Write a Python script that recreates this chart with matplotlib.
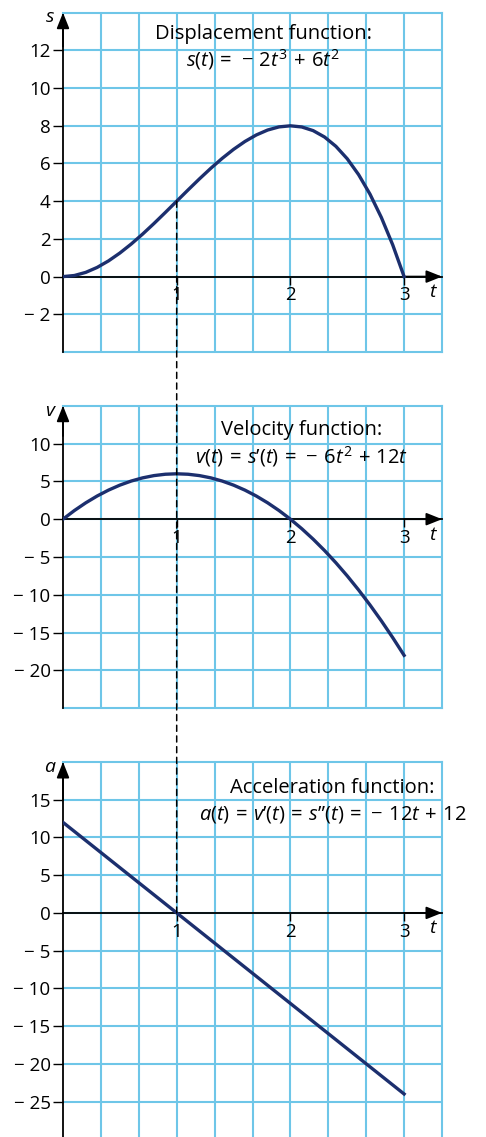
import matplotlib
matplotlib.use("Agg")
import matplotlib.pyplot as plt
from matplotlib.patches import ConnectionPatch

plt.rcParams['font.family'] = ['Open Sans', 'DejaVu Sans']
plt.rcParams['mathtext.fontset'] = 'custom'
plt.rcParams['mathtext.rm'] = 'Open Sans'
plt.rcParams['mathtext.it'] = 'Open Sans:italic'

# values (t step 0.1)
t_curve = [0.0, 0.1, 0.2, 0.3, 0.4, 0.5, 0.6, 0.7, 0.8, 0.9, 1.0,
           1.1, 1.2, 1.3, 1.4, 1.5, 1.6, 1.7, 1.8, 1.9, 2.0,
           2.1, 2.2, 2.3, 2.4, 2.5, 2.6, 2.7, 2.8, 2.9, 3.0]
s_vals = [0.0, 0.058, 0.224, 0.486, 0.832, 1.25, 1.728, 2.254, 2.816, 3.402, 4.0,
          4.598, 5.184, 5.746, 6.272, 6.75, 7.168, 7.514, 7.776, 7.942, 8.0,
          7.938, 7.744, 7.406, 6.912, 6.25, 5.408, 4.374, 3.136, 1.682, 0.0]
v_vals = [0.0, 1.14, 2.16, 3.06, 3.84, 4.5, 5.04, 5.46, 5.76, 5.94, 6.0,
          5.94, 5.76, 5.46, 5.04, 4.5, 3.84, 3.06, 2.16, 1.14, 0.0,
          -1.26, -2.64, -4.14, -5.76, -7.5, -9.36, -11.34, -13.44, -15.66, -18.0]
t_line = [0.0, 3.0]
a_vals = [12.0, -24.0]

t_ticks = [1, 2, 3]
s_ticks = [-2, 0, 2, 4, 6, 8, 10, 12]
v_ticks = [-20, -15, -10, -5, 0, 5, 10]
a_ticks = [-25, -20, -15, -10, -5, 0, 5, 10, 15]

GRID = '#6ec6e8'
NAVY = '#1c2f6e'
FS = 14.5

W, H = 486, 1137
fig = plt.figure(figsize=(W / 100, H / 100), dpi=100)


def add_panel(top, bottom):
    # top/bottom given in pixel rows of the picture
    return fig.add_axes([63 / W, 1 - bottom / H, 379 / W, (bottom - top) / H])


def lab(v):
    return '\u2212 ' + str(-v) if v < 0 else str(v)


def style(ax, ylim, yticks, border=True):
    ax.set_xlim(0, 10 / 3)
    ax.set_ylim(*ylim)
    ax.set_xticks(t_ticks)
    ax.set_xticklabels([str(v) for v in t_ticks])
    ax.set_xticks([k / 3 for k in range(1, 10)], minor=True)
    ax.set_yticks(yticks)
    ax.set_yticklabels([lab(v) for v in yticks])
    ax.set_axisbelow(True)
    ax.grid(True, which='both', color=GRID, lw=1.5)
    ax.tick_params(which='minor', length=0)
    ax.tick_params(axis='x', which='major', direction='out', length=6,
                   width=1, pad=1, labelsize=13.5)
    ax.tick_params(axis='y', which='major', direction='out', length=7,
                   width=1, pad=2, labelsize=13.5)
    for side in ['top', 'right']:
        ax.spines[side].set_color(GRID)
        ax.spines[side].set_linewidth(1.5)
    ax.spines['left'].set_color('k')
    ax.spines['left'].set_linewidth(1.3)
    ax.spines['bottom'].set_position(('data', 0))
    ax.spines['bottom'].set_color('k')
    ax.spines['bottom'].set_linewidth(1.3)
    ax.spines['bottom'].set_zorder(2.6)
    if border:
        ax.axhline(ylim[0], color=GRID, lw=1.5, clip_on=False, zorder=1)
    head = dict(arrowstyle='-|>,head_length=0.95,head_width=0.38', color='k',
                lw=1.3, shrinkA=0, shrinkB=0)
    ax.annotate('', xy=(0, 1), xycoords=ax.get_xaxis_transform(),
                xytext=(0, 0.9), textcoords=ax.get_xaxis_transform(),
                arrowprops=head, annotation_clip=False)
    ax.annotate('', xy=(1, 0), xycoords=ax.get_yaxis_transform(),
                xytext=(0.9, 0), textcoords=ax.get_yaxis_transform(),
                arrowprops=head, annotation_clip=False)


def axis_letter(ax, x, y, s):
    ax.text(x, y, s, style='italic', fontsize=14, ha='center', va='center')


# Displacement
ax1 = add_panel(12.7, 352)
style(ax1, (-4, 14), s_ticks)
ax1.plot(t_curve, s_vals, color=NAVY, lw=2.4, zorder=3)
axis_letter(ax1, -0.115, 13.75, 's')
axis_letter(ax1, 3.25, -0.8, 't')
ax1.text(1.76, 12.86, 'Displacement function:', fontsize=FS, ha='center', va='center')
ax1.text(1.76, 11.5, r'$s(t)\,=\,-\,2t^3\,+\,6t^2$', fontsize=FS, ha='center', va='center')

# Velocity
ax2 = add_panel(405.7, 708.3)
style(ax2, (-25, 15), v_ticks)
ax2.plot(t_curve, v_vals, color=NAVY, lw=2.4, zorder=3)
axis_letter(ax2, -0.115, 14.3, 'v')
axis_letter(ax2, 3.25, -2.1, 't')
ax2.text(2.10, 11.8, 'Velocity function:', fontsize=FS, ha='center', va='center')
ax2.text(2.10, 8.25, '$v(t)\\,=\\,s\u2019(t)\\,=\\,-\\,6t^2\\,+\\,12t$', fontsize=FS,
         ha='center', va='center')

# Acceleration
ax3 = add_panel(762, 1137)
style(ax3, (-29.7, 20), a_ticks, border=False)
ax3.plot(t_line, a_vals, color=NAVY, lw=2.4, zorder=3)
axis_letter(ax3, -0.115, 19.3, 'a')
axis_letter(ax3, 3.25, -2.0, 't')
ax3.text(2.37, 16.6, 'Acceleration function:', fontsize=FS, ha='center', va='center')
ax3.text(2.37, 13.1,
         '$a(t)\\,=\\,v\u2019(t)\\,=\\,s\u201d(t)\\,=\\,-\\,12t\\,+\\,12$',
         fontsize=FS, ha='center', va='center')

# dashed guide at t = 1 through all three panels
con = ConnectionPatch(xyA=(1, 4), coordsA=ax1.transData,
                      xyB=(1, 0), coordsB=ax3.transData,
                      color='k', lw=1.1, linestyle=(0, (4, 3)), zorder=2)
fig.add_artist(con)

fig.savefig('out.png', dpi=100)
